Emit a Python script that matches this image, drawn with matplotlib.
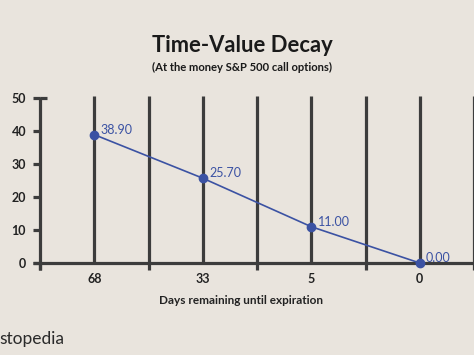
import matplotlib
matplotlib.use("Agg")
import matplotlib.pyplot as plt

days_labels = ["68", "33", "5", "0"]
values = [38.90, 25.70, 11.00, 0.00]
value_labels = ["38.90", "25.70", "11.00", "0.00"]
y_ticks = [0, 10, 20, 30, 40, 50]

BG = "#e9e4dd"
DARK = "#3c3c3c"
BLUE = "#3b52a3"
FONT = "Lato"

fig = plt.figure(figsize=(4.74, 3.55), dpi=100, facecolor=BG)
ax = fig.add_axes([40/474, (355-263)/355, 434/474, (263-98)/355])
ax.set_facecolor(BG)
ax.set_xlim(0, 8.0)
ax.set_ylim(0, 50)

cat_pos = [1 + 2*i for i in range(len(days_labels))]
between_pos = [0, 2, 4, 6, 8]

for s in ax.spines.values():
    s.set_visible(False)

# vertical lines
for p in range(1, 9):
    ax.plot([p, p], [0, 50.6], color=DARK, lw=2.3, clip_on=False, zorder=2, solid_capstyle='butt')

# y axis with cap
ax.plot([0, 0], [-2.0, 50.3], color=DARK, lw=2.3, clip_on=False, zorder=3, solid_capstyle='butt')
ax.plot([0, 0.13], [50, 50], color=DARK, lw=2.3, clip_on=False, zorder=3, solid_capstyle='butt')
# x axis
ax.plot([-0.13, 8.05], [0, 0], color=DARK, lw=2.3, clip_on=False, zorder=3, solid_capstyle='butt')
# ticks down between categories
for p in between_pos:
    ax.plot([p, p], [0, -2.0], color=DARK, lw=2.3, clip_on=False, zorder=3, solid_capstyle='butt')

# data line
ax.plot(cat_pos, values, color=BLUE, lw=1.2, marker='o', ms=6, zorder=5, clip_on=False)
for x, v, lab in zip(cat_pos, values, value_labels):
    ax.annotate(lab, (x, v), xytext=(4.5, 3.5), textcoords='offset points', color=BLUE,
                fontsize=9, fontfamily=FONT, va='center', ha='left', zorder=6)

ax.set_xticks(cat_pos)
ax.set_xticklabels(days_labels)
ax.set_yticks(y_ticks)
ax.set_yticklabels([str(t) for t in y_ticks])
ax.tick_params(axis='x', length=0, pad=7, labelsize=9, labelcolor='#222222')
ax.tick_params(axis='y', length=5, width=2.3, color=DARK, pad=5, labelsize=9, labelcolor='#222222')
for lab in ax.get_xticklabels() + ax.get_yticklabels():
    lab.set_fontfamily(FONT)
    lab.set_fontweight('bold')

ax.set_xlabel("Days remaining until expiration", fontsize=8.5, fontfamily=FONT,
              fontweight='bold', color='#222222')
ax.xaxis.set_label_coords((241-40)/434, -(301-263)/165, transform=ax.transAxes)
ax.xaxis.label.set_va('center')

fig.text(242/474, 1-46/355, "Time-Value Decay", ha='center', va='center', fontsize=15.8,
         fontfamily=FONT, fontweight='bold', color='#1a1a1a')
fig.text(242/474, 1-67/355, "(At the money S&P 500 call options)", ha='center', va='center',
         fontsize=8.1, fontfamily=FONT, fontweight='bold', color='#1a1a1a')
fig.text(-1/474, 1-339/355, "stopedia", ha='left', va='center', fontsize=12.5,
         fontfamily=FONT, color='#2a2a2a')

fig.savefig("out.png", dpi=100, facecolor=BG)
